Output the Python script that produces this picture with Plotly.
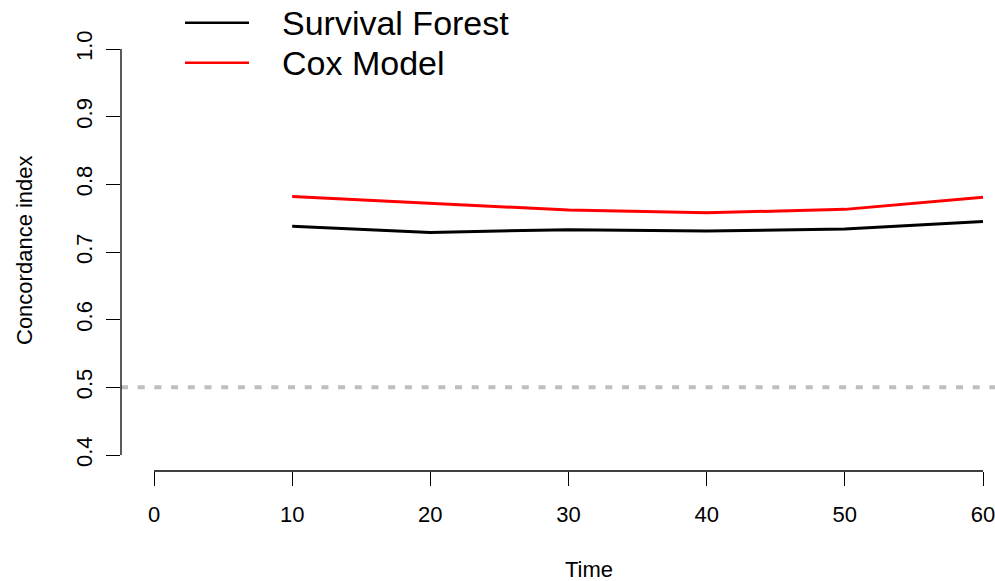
import plotly.graph_objects as go

# ---- data ----
times = [10, 20, 30, 40, 50, 60]
survival_forest = [0.738, 0.729, 0.733, 0.731, 0.734, 0.745]
cox_model = [0.782, 0.772, 0.762, 0.758, 0.763, 0.781]
series_names = ["Survival Forest", "Cox Model"]
series_colors = ["#000000", "#FF0000"]
reference_level = 0.5
x_ticks = [0, 10, 20, 30, 40, 50, 60]
y_ticks = [0.4, 0.5, 0.6, 0.7, 0.8, 0.9, 1.0]

# ---- layout geometry (pixels) ----
W, H = 995, 581
L, R, T, B = 121, 0, 33, 110
pw, ph = W - L - R, H - T - B


def px(x):
    return (x - L) / pw


def py(y):
    return (H - B - y) / ph


fig = go.Figure()

for name, vals, col in zip(series_names, [survival_forest, cox_model], series_colors):
    fig.add_trace(go.Scatter(x=times, y=vals, mode="lines", name=name,
                             line=dict(color=col, width=3), showlegend=False))

# reference dashed line
fig.add_shape(type="line", xref="paper", yref="y", x0=0, x1=1,
              y0=reference_level, y1=reference_level,
              line=dict(color="#BEBEBE", width=4, dash="7px,9.7px"))

# axis lines (R style: from first to last tick)
fig.add_shape(type="line", xref="paper", yref="y", x0=0, x1=0,
              y0=y_ticks[0], y1=y_ticks[-1], line=dict(color="black", width=1.3))
fig.add_shape(type="line", xref="x", yref="paper", x0=x_ticks[0], x1=x_ticks[-1],
              y0=0, y1=0, line=dict(color="black", width=1.3))

# legend (manual)
leg_y = [22.7, 62.7]
for name, col, yy in zip(series_names, series_colors, leg_y):
    fig.add_shape(type="line", xref="paper", yref="paper", x0=px(185), x1=px(249),
                  y0=py(yy), y1=py(yy), line=dict(color=col, width=2.5))
    fig.add_annotation(xref="paper", yref="paper", x=px(280), y=py(yy), text=name,
                       showarrow=False, xanchor="left", yanchor="middle",
                       font=dict(size=34, color="black"))

# axis titles
fig.add_annotation(xref="paper", yref="paper", x=px(589), y=py(569), text="Time",
                   showarrow=False, xanchor="center", yanchor="middle",
                   font=dict(size=22, color="black"))
fig.add_annotation(xref="paper", yref="paper", x=px(25), y=py(250), text="Concordance index",
                   showarrow=False, xanchor="center", yanchor="middle", textangle=-90,
                   font=dict(size=22, color="black"))

fig.update_xaxes(range=[-33 / 13.8167, 60 + 12 / 13.8167], tickvals=x_ticks,
                 ticktext=[str(v) for v in x_ticks], ticks="outside", ticklen=14,
                 tickwidth=1.3, tickcolor="black", showgrid=False, zeroline=False,
                 showline=False, tickfont=dict(size=22, color="black"),
                 ticklabelstandoff=10, ticklabeloverflow="allow")
fig.update_yaxes(range=[0.4 - 16 / 676.7, 1.0 + 16 / 676.7], tickvals=y_ticks,
                 ticktext=[f"{v:.1f}" for v in y_ticks], ticks="outside", ticklen=14,
                 tickwidth=1.3, tickcolor="black", showgrid=False, zeroline=False,
                 showline=False, tickangle=-90, tickfont=dict(size=22, color="black"),
                 ticklabelstandoff=5, ticklabeloverflow="allow")

fig.update_layout(width=W, height=H, margin=dict(l=L, r=R, t=T, b=B),
                  plot_bgcolor="white", paper_bgcolor="white",
                  font=dict(family="Liberation Sans, Arial, sans-serif", color="black"))

fig.write_html("out.html")
